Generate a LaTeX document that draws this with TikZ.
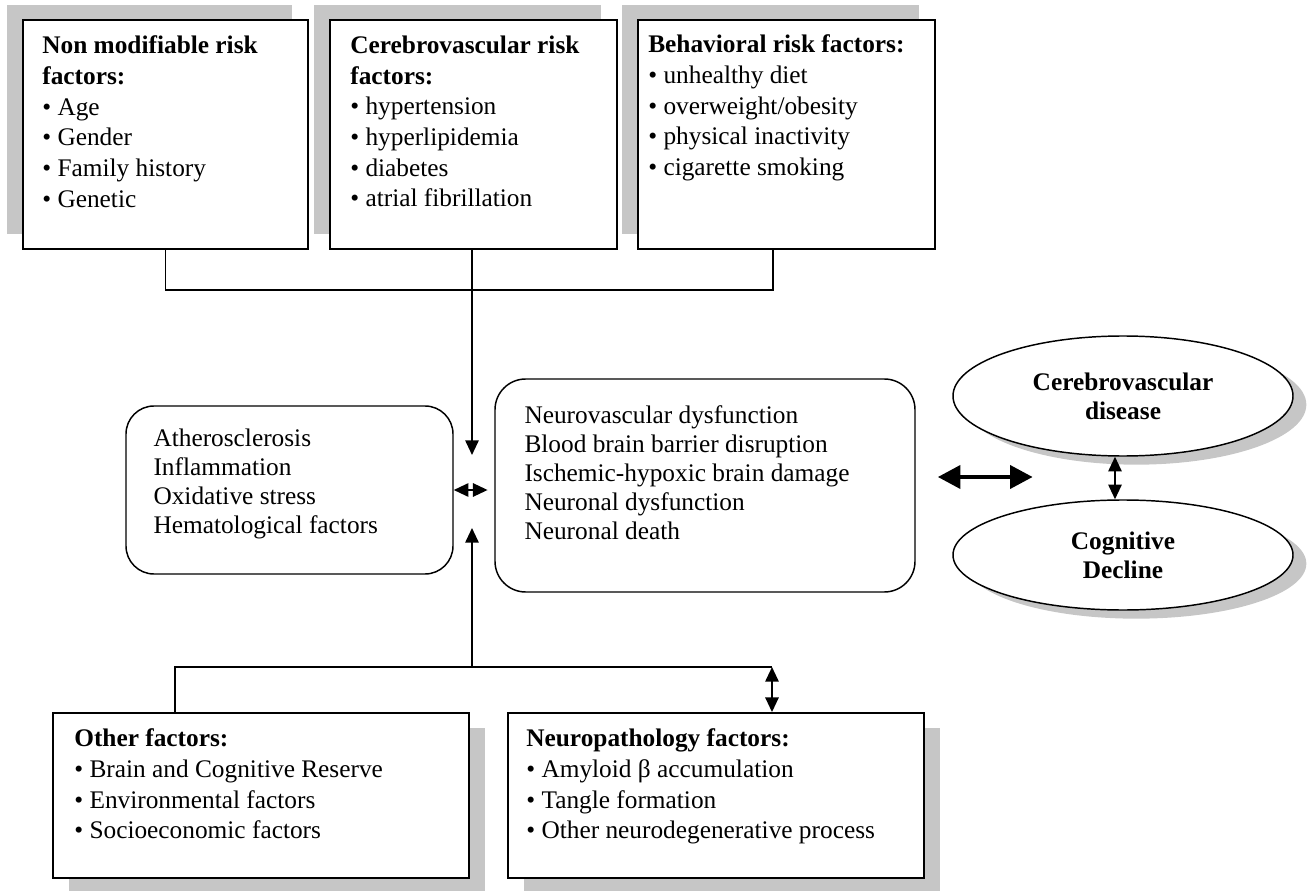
\documentclass[tikz,border=0pt]{standalone}
\usepackage{fontspec}
\setmainfont{Liberation Serif}
\usepackage{tikz}
\usetikzlibrary{shapes.geometric, arrows.meta, positioning, calc, shadows}
\definecolor{shadow-gray}{HTML}{C6C6C6}
\newcommand{\diagramfont}{\fontsize{19pt}{21.75pt}\selectfont}
\newcommand{\listfont}{\fontsize{19pt}{23pt}\selectfont}

\tikzset{
  riskbox/.style={draw, line width=1.4pt, fill=white, inner sep=0pt,
    minimum height=171.75pt,
    drop shadow={shadow xshift=-12pt, shadow yshift=11.25pt, fill=shadow-gray, opacity=1}},
  factorbox/.style={draw, line width=1.4pt, fill=white, inner sep=0pt,
    minimum width=312pt, minimum height=123.75pt,
    drop shadow={shadow xshift=12pt, shadow yshift=-11.25pt, fill=shadow-gray, opacity=1}},
  roundbox/.style={draw, line width=1.1pt, rounded corners=21pt, inner sep=0pt},
  outcome/.style={ellipse, draw, line width=1.1pt, fill=white, inner sep=0pt,
    minimum width=255pt, minimum height=82.5pt, align=center, font=\diagramfont\bfseries,
    drop shadow={shadow xshift=10pt, shadow yshift=-6.5pt, fill=shadow-gray, opacity=1}},
  boxtext/.style={anchor=north west, align=left, inner sep=0pt, font=\diagramfont},
  listtext/.style={boxtext, font=\listfont},
  link/.style={line width=1.4pt},
  arr/.style={link, -{Triangle[length=11pt,width=10pt]}},
  dblarr/.style={link, {Triangle[length=11pt,width=10pt]}-{Triangle[length=11pt,width=10pt]}},
  bigarr/.style={line width=3.6pt, {Triangle[length=17pt,width=17pt]}-{Triangle[length=17pt,width=17pt]}}
}

\begin{document}
\begin{tikzpicture}[x=0.75pt, y=-0.75pt]
    \useasboundingbox (0,0) rectangle (1311,891);

    % Risk factor boxes
    \node[riskbox, minimum width=213.75pt] (nonmod) at (165.5,134.5) {};
    \node[riskbox, minimum width=215.25pt] (cerebro) at (473.5,134.5) {};
    \node[riskbox, minimum width=222.75pt] (behav) at (786.5,134.5) {};

    \node[listtext] (nonmodtext) at ([shift={(20,16.7)}]nonmod.north west)
        {\textbf{Non modifiable risk}\\\textbf{factors:}\\\textbullet{} Age\\\textbullet{} Gender\\\textbullet{} Family history\\\textbullet{} Genetic};
    \node[listtext] (cerebrotext) at ([shift={(21,16.7)}]cerebro.north west)
        {\textbf{Cerebrovascular risk}\\\textbf{factors:}\\\textbullet{} hypertension\\\textbullet{} hyperlipidemia\\\textbullet{} diabetes\\\textbullet{} atrial fibrillation};
    \node[listtext] (behavtext) at ([shift={(11,15.7)}]behav.north west)
        {\textbf{Behavioral risk factors:}\\\textbullet{} unhealthy diet\\\textbullet{} overweight/obesity\\\textbullet{} physical inactivity\\\textbullet{} cigarette smoking};

    % Mechanisms
    \node[roundbox, minimum width=245.25pt, minimum height=126pt] (athero) at (289.5,490) {};
    \node[boxtext] (atherotext) at ([shift={(28,23.7)}]athero.north west)
        {Atherosclerosis\\Inflammation\\Oxidative stress\\Hematological factors};

    \node[roundbox, rounded corners=23pt, minimum width=315pt, minimum height=159.75pt] (neurovasc) at (705,485.5) {};
    \node[boxtext] (neurovasctext) at ([shift={(30,26.7)}]neurovasc.north west)
        {Neurovascular dysfunction\\Blood brain barrier disruption\\Ischemic-hypoxic brain damage\\Neuronal dysfunction\\Neuronal death};

    % Outcomes
    \node[outcome, minimum height=90pt] (cvd) at (1123,396) {Cerebrovascular\\disease};
    \node[outcome] (cog) at (1123,555) {Cognitive\\Decline};

    % Other and neuropathology factors
    \node[factorbox] (other) at (261,795.5) {};
    \node[factorbox] (neuro) at (716,795.5) {};

    \node[listtext] (othertext) at ([shift={(22,16.7)}]other.north west)
        {\textbf{Other factors:}\\\textbullet{} Brain and Cognitive Reserve\\\textbullet{} Environmental factors\\\textbullet{} Socioeconomic factors};
    \node[listtext] (neurotext) at ([shift={(19,16.7)}]neuro.north west)
        {\textbf{Neuropathology factors:}\\\textbullet{} Amyloid β accumulation\\\textbullet{} Tangle formation\\\textbullet{} Other neurodegenerative process};

    % Connectors
    \coordinate (topbar) at (472,290);
    \coordinate (downtip) at (472,455);
    \coordinate (uptip) at (472,528);
    \coordinate (botbar) at (472,667);
    \coordinate (botright) at (772,667);

    \draw[link] (nonmod.south) |- (topbar);
    \draw[link] ([xshift=-10pt]behav.south) |- (topbar);
    \draw[arr] (cerebro.south -| topbar) -- (downtip);

    \draw[arr] (botbar) -- (uptip);
    \draw[link] ([xshift=-64.5pt]other.north) |- (botright);
    \draw[dblarr] (botright) -- (botright |- neuro.north);

    \draw[dblarr] (athero.east) -- ([xshift=-5pt]athero.east -| neurovasc.west);
    \draw[bigarr] ([shift={(22,-8.5)}]neurovasc.east) -- ++(95,0);
    \draw[dblarr] ([xshift=-6pt]cvd.south) -- ([xshift=-6pt]cog.north);
\end{tikzpicture}
\end{document}
